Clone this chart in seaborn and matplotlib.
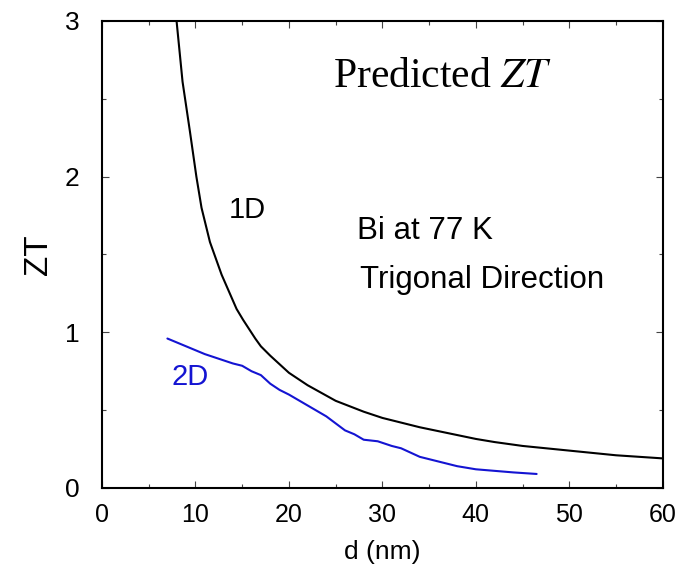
import numpy as np
import pandas as pd
import seaborn as sns
import matplotlib.pyplot as plt
from matplotlib.ticker import MultipleLocator

# --- dados (Bi a 77 K, direção trigonal) ---
d_1d = [7.98, 8.62, 9.41, 10.1, 10.65, 11.55, 12.8, 14.4, 15.1, 16.4, 17.0, 18.0,
        20.0, 22.0, 25.0, 28.0, 30.0, 32.0, 34.0, 36.0, 38.0, 40.0, 42.0, 45.0,
        50.0, 55.0, 60.0]
zt_1d = [3.0, 2.61, 2.29, 2.0, 1.80, 1.58, 1.37, 1.15, 1.08, 0.96, 0.91, 0.85,
         0.74, 0.66, 0.56, 0.49, 0.45, 0.42, 0.39, 0.365, 0.34, 0.315, 0.295, 0.27,
         0.24, 0.21, 0.19]

d_2d = [7.0, 8.0, 9.0, 10.0, 11.0, 12.0, 13.0, 14.0, 15.0, 16.0, 17.0, 18.0, 19.0,
        20.0, 22.0, 24.0, 26.0, 27.0, 28.0, 29.5, 31.0, 32.0, 34.0, 36.0, 38.0,
        40.0, 42.0, 44.0, 46.5]
zt_2d = [0.96, 0.935, 0.91, 0.885, 0.86, 0.84, 0.82, 0.80, 0.785, 0.75, 0.725, 0.67,
         0.63, 0.60, 0.53, 0.46, 0.37, 0.345, 0.31, 0.30, 0.27, 0.255, 0.20, 0.17,
         0.14, 0.12, 0.11, 0.10, 0.09]

x_ticks = [0, 10, 20, 30, 40, 50, 60]
y_ticks = [0, 1, 2, 3]

sns.set_style("ticks")
plt.rcParams['font.family'] = ['Liberation Sans', 'DejaVu Sans']
plt.rcParams['mathtext.fontset'] = 'stix'
plt.rcParams['text.color'] = 'black'
plt.rcParams['axes.labelcolor'] = 'black'
plt.rcParams['xtick.labelcolor'] = 'black'
plt.rcParams['ytick.labelcolor'] = 'black'

df1 = pd.DataFrame({'d': d_1d, 'ZT': zt_1d})
df2 = pd.DataFrame({'d': d_2d, 'ZT': zt_2d})

fig = plt.figure(figsize=(6.89, 5.64), dpi=100)
ax = fig.add_axes([0.148, 0.1348, 0.814, 0.828])

sns.lineplot(data=df1, x='d', y='ZT', ax=ax, color='black', lw=1.5,
             sort=False, estimator=None)
sns.lineplot(data=df2, x='d', y='ZT', ax=ax, color='#1414d2', lw=1.5,
             sort=False, estimator=None)

ax.set_xlim(0, 60)
ax.set_ylim(0, 3)
ax.set_xticks(x_ticks)
ax.set_yticks(y_ticks)
ax.xaxis.set_minor_locator(MultipleLocator(5))
ax.yaxis.set_minor_locator(MultipleLocator(0.5))
ax.tick_params(which='both', direction='in', top=True, right=True,
               width=0.8, color='#444444')
ax.tick_params(which='major', length=5)
ax.tick_params(which='minor', length=3)
ax.tick_params(axis='x', labelsize=18, pad=11)
ax.tick_params(axis='y', labelsize=19, pad=16)
for s in ax.spines.values():
    s.set_linewidth(1.5)
    s.set_color('black')

ax.set_xlabel('d (nm)', fontsize=19, labelpad=9)
ax.set_ylabel('ZT', fontsize=24)
ax.yaxis.set_label_coords(-0.085, 0.5)

# --- anotações ---
ax.text(24.7, 2.575, 'Predicted $ZT$', fontsize=30, family='Liberation Serif')
ax.text(15.6, 1.785, '1D', fontsize=21, ha='center', va='center')
ax.text(9.4, 0.71, '2D', fontsize=21, ha='center', va='center', color='#1414d2')
ax.text(27.3, 1.60, 'Bi at 77 K', fontsize=22.5)
ax.text(27.6, 1.285, 'Trigonal Direction', fontsize=22.5)

plt.savefig('out.png', dpi=100)
plt.close()
